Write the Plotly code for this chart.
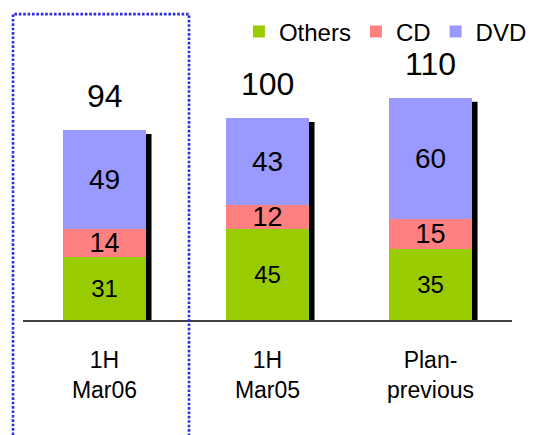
import plotly.graph_objects as go

# Sales mix per period (units)
categories = ["1H<br>Mar06", "1H<br>Mar05", "Plan-<br>previous"]
others = [31, 45, 35]
cd = [14, 12, 15]
dvd = [49, 43, 60]
totals = [94, 100, 110]

FONT = "Liberation Sans, Arial, sans-serif"
BAR_WIDTH = 0.515

series = [
    ("Others", others, "#99CC00", 24),
    ("CD", cd, "#FF8080", 27),
    ("DVD", dvd, "#9999FF", 28),
]

fig = go.Figure()
for name, vals, color, size in series:
    fig.add_trace(go.Bar(
        name=name,
        x=list(range(len(categories))),
        y=vals,
        width=BAR_WIDTH,
        marker=dict(color=color, line=dict(width=0)),
        text=[str(v) for v in vals],
        textposition="inside",
        insidetextanchor="middle",
        constraintext="none",
        textfont=dict(family=FONT, size=size, color="black"),
        hoverinfo="skip",
    ))

# Drop shadow behind each stacked bar
shadow_dx = 0.031
shadow_dy = 2
for i, t in enumerate(totals):
    fig.add_shape(
        type="rect", xref="x", yref="y", layer="below",
        x0=i - BAR_WIDTH / 2 + shadow_dx, x1=i + BAR_WIDTH / 2 + shadow_dx,
        y0=0, y1=t - shadow_dy,
        fillcolor="black", line=dict(width=0),
    )

# Totals above bars
for i, t in enumerate(totals):
    fig.add_annotation(
        x=i, y=t, xref="x", yref="y", text=str(t), showarrow=False,
        yanchor="bottom", yshift=14,
        font=dict(family=FONT, size=32, color="black"),
    )

# Dotted highlight frame around the current period (open at the bottom)
fig.add_shape(
    type="path", xref="paper", yref="paper",
    path="M -0.0204,-0.5 L -0.0204,1.081 L 0.3395,1.081 L 0.3395,-0.5",
    line=dict(color="#2E2EE0", width=2.6, dash="2.6px,1.8px"),
)

fig.update_layout(
    width=540, height=435,
    margin=dict(l=23, r=28, t=37, b=115, autoexpand=False),
    barmode="stack",
    plot_bgcolor="white", paper_bgcolor="white",
    font=dict(family=FONT, color="black"),
    showlegend=True,
    legend=dict(
        orientation="h", traceorder="normal",
        x=0.985, xanchor="right", xref="container",
        y=403 / 435, yanchor="middle", yref="container",
        font=dict(family=FONT, size=24),
        itemwidth=30, bgcolor="rgba(0,0,0,0)",
    ),
    xaxis=dict(
        range=[-0.5, 2.5],
        tickmode="array",
        tickvals=list(range(len(categories))),
        ticktext=categories,
        tickfont=dict(family=FONT, size=23),
        ticks="", ticklabelstandoff=19,
        showline=True, linecolor="#404040", linewidth=1.5,
        showgrid=False, zeroline=False,
    ),
    yaxis=dict(
        range=[0, 140], visible=False, showgrid=False, zeroline=False,
    ),
)

fig.write_html("out.html")
